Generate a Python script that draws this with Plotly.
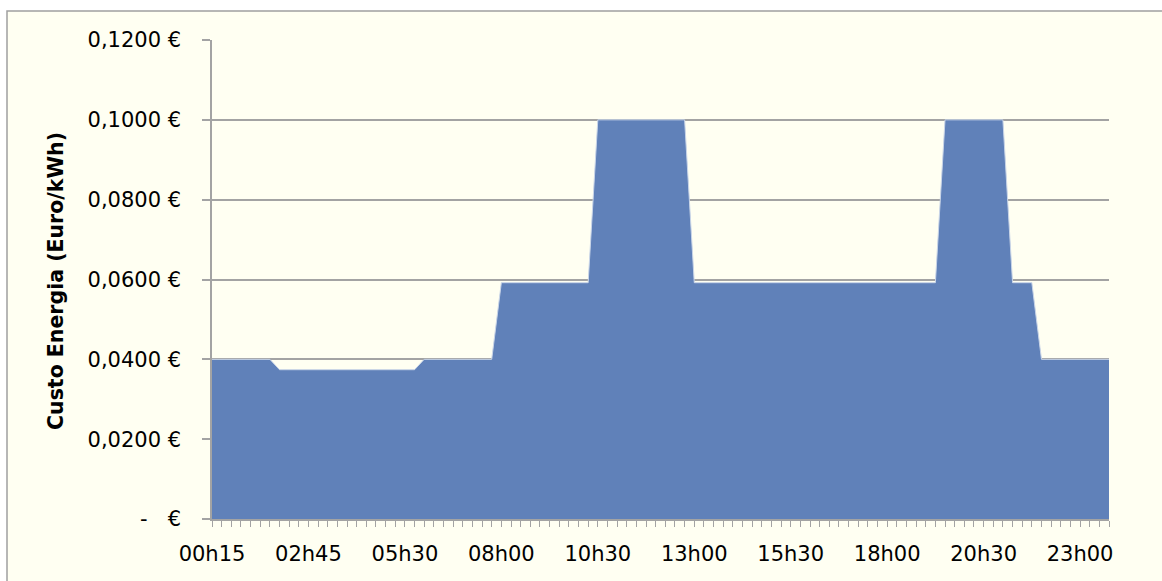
import plotly.graph_objects as go

# Categories (quarter-hour slots as shown on the original axis)
horas = [
    "00h15", "00h30", "00h45", "01h00", "01h15", "01h30", "01h45", "02h00", "02h15", "02h30",
    "02h45", "03h00", "03h15", "03h30", "03h45", "04h15", "04h30", "04h45", "05h00", "05h15",
    "05h30", "05h45", "06h00", "06h15", "06h30", "06h45", "07h00", "07h15", "07h30", "07h45",
    "08h00", "08h15", "08h30", "08h45", "09h00", "09h15", "09h30", "09h45", "10h00", "10h15",
    "10h30", "10h45", "11h00", "11h15", "11h30", "11h45", "12h00", "12h15", "12h30", "12h45",
    "13h00", "13h15", "13h30", "13h45", "14h00", "14h15", "14h30", "14h45", "15h00", "15h15",
    "15h30", "15h45", "16h00", "16h15", "16h30", "16h45", "17h00", "17h15", "17h30", "17h45",
    "18h00", "18h15", "18h30", "18h45", "19h00", "19h15", "19h30", "19h45", "20h00", "20h15",
    "20h30", "20h45", "21h00", "21h15", "21h30", "21h45", "22h00", "22h15", "22h30", "22h45",
    "23h00", "23h15", "23h30", "23h45",
]

# Energy cost (Euro/kWh) per slot
custo = [
    0.0400, 0.0400, 0.0400, 0.0400, 0.0400, 0.0400, 0.0400,
    0.0374, 0.0374, 0.0374, 0.0374, 0.0374, 0.0374, 0.0374, 0.0374, 0.0374,
    0.0374, 0.0374, 0.0374, 0.0374, 0.0374, 0.0374,
    0.0400, 0.0400, 0.0400, 0.0400, 0.0400, 0.0400, 0.0400, 0.0400,
    0.0592, 0.0592, 0.0592, 0.0592, 0.0592, 0.0592, 0.0592, 0.0592, 0.0592, 0.0592,
    0.1000, 0.1000, 0.1000, 0.1000, 0.1000, 0.1000, 0.1000, 0.1000, 0.1000, 0.1000,
    0.0592, 0.0592, 0.0592, 0.0592, 0.0592, 0.0592, 0.0592, 0.0592, 0.0592, 0.0592,
    0.0592, 0.0592, 0.0592, 0.0592, 0.0592, 0.0592, 0.0592, 0.0592, 0.0592, 0.0592,
    0.0592, 0.0592, 0.0592, 0.0592, 0.0592, 0.0592,
    0.1000, 0.1000, 0.1000, 0.1000, 0.1000, 0.1000, 0.1000,
    0.0592, 0.0592, 0.0592,
    0.0400, 0.0400, 0.0400, 0.0400, 0.0400, 0.0400, 0.0400, 0.0400,
]

# Y axis tick values and labels
y_ticks = [0.0, 0.02, 0.04, 0.06, 0.08, 0.10, 0.12]
y_labels = ["-\u00a0\u00a0\u00a0€", "0,0200\u00a0€", "0,0400\u00a0€", "0,0600\u00a0€",
            "0,0800\u00a0€", "0,1000\u00a0€", "0,1200\u00a0€"]

# X axis: label every 10th slot, tick mark every slot
x_labels = [h if i % 10 == 0 else "" for i, h in enumerate(horas)]

FONT = "DejaVu Sans"
CREAM = "#FFFFF2"
GRID = "#A3A3A3"

fig = go.Figure()
fig.add_trace(go.Scatter(
    x=horas, y=custo, mode="lines", fill="tozeroy",
    line=dict(color="#C9D5E8", width=1),
    fillcolor="#6081B9",
    hoverinfo="x+y", showlegend=False,
))

W, H = 1162, 581
L, R, T, B = 212, 53, 40, 62
pw, ph = W - L - R, H - T - B

def px_x(p):
    return (p - L) / pw

def px_y(p):
    return (H - B - p) / ph

fig.update_layout(
    width=W, height=H,
    margin=dict(l=L, r=R, t=T, b=B),
    paper_bgcolor="white",
    plot_bgcolor="rgba(0,0,0,0)",
    font=dict(family=FONT, size=21, color="black"),
    xaxis=dict(
        type="category",
        categoryorder="array", categoryarray=horas,
        range=[0, len(horas) - 1],
        tickmode="array", tickvals=horas, ticktext=x_labels,
        ticks="outside", ticklen=6, tickcolor=GRID, tickwidth=1,
        showline=True, linecolor=GRID, linewidth=1.5,
        showgrid=False, zeroline=False,
        tickfont=dict(family=FONT, size=21),
        tickangle=0,
        ticklabelstandoff=9,
    ),
    yaxis=dict(
        range=[0, 0.12],
        tickmode="array", tickvals=y_ticks, ticktext=y_labels,
        ticks="outside", ticklen=8, tickcolor=GRID, tickwidth=1.5,
        showline=True, linecolor=GRID, linewidth=1.5,
        showgrid=True, gridcolor=GRID, gridwidth=1.5,
        zeroline=False,
        tickfont=dict(family=FONT, size=21),
        ticklabelstandoff=17,
    ),
    shapes=[dict(
        type="rect", xref="paper", yref="paper",
        x0=px_x(7), x1=px_x(1175), y0=px_y(600), y1=px_y(11),
        line=dict(color="#A0A0A0", width=1.5),
        fillcolor=CREAM, layer="below",
    )],
    annotations=[dict(
        text="<b>Custo Energia (Euro/kWh)</b>",
        xref="paper", yref="paper",
        x=px_x(56), y=px_y(281), textangle=-90,
        showarrow=False, xanchor="center", yanchor="middle",
        font=dict(family=FONT, size=20.5, color="black"),
    )],
)

fig.write_html(
    "out.html",
    config={"displayModeBar": False},
    post_script="document.body.style.margin='0px';",
)
